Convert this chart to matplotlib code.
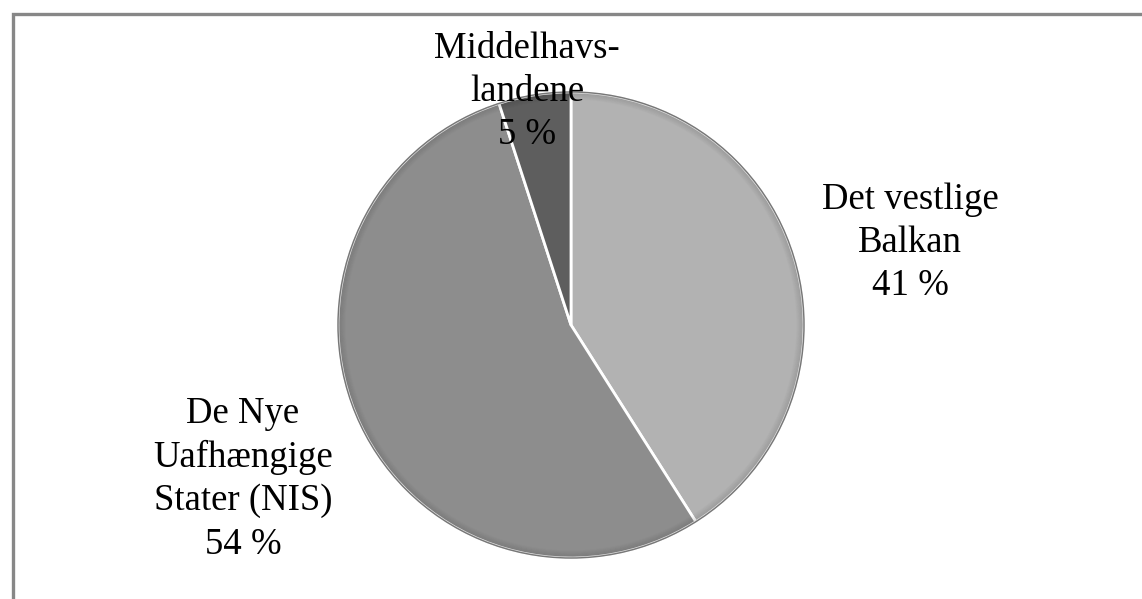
import numpy as np
import matplotlib.pyplot as plt
from matplotlib.patches import Rectangle, Circle

labels = ["Det vestlige\nBalkan", "De Nye\nUafhængige\nStater (NIS)", "Middelhavs-\nlandene"]
shares = [41, 54, 5]
colors = ["#b2b2b2", "#8d8d8d", "#5e5e5e"]

W, H = 1142, 599
fig = plt.figure(figsize=(W / 100, H / 100), dpi=100)
ax = fig.add_axes([0, 0, 1, 1])

cx, cy, r = 571, H - 325, 233
ax.pie(shares, colors=colors, startangle=90, counterclock=False,
       center=(cx, cy), radius=r, frame=True,
       wedgeprops=dict(edgecolor="white", linewidth=2.0))

# soft bevel: darker toward the rim
for k in range(8):
    ax.add_patch(Circle((cx, cy), r - k, fill=False, edgecolor="black",
                        alpha=0.10 * (1 - k / 8), linewidth=1.0))
ax.add_patch(Circle((cx, cy), r, fill=False, edgecolor="#777777", linewidth=1.0))

# frame (only top and left visible in reference)
ax.add_patch(Rectangle((13, -20), W + 40, H - 14 + 20, fill=False,
                       edgecolor="#878787", linewidth=2.4))

ax.set_xlim(0, W)
ax.set_ylim(0, H)
ax.set_aspect("equal")
ax.axis("off")

label_pos = [(910, H - 243), (243, H - 479), (527, H - 92)]
for lab, s, (x, y) in zip(labels, shares, label_pos):
    ax.text(x, y, "%s\n%d %%" % (lab, s), ha="center", va="center",
            fontsize=26.5, family="Liberation Serif", linespacing=1.33,
            color="black")

fig.savefig("out.png", dpi=100)
